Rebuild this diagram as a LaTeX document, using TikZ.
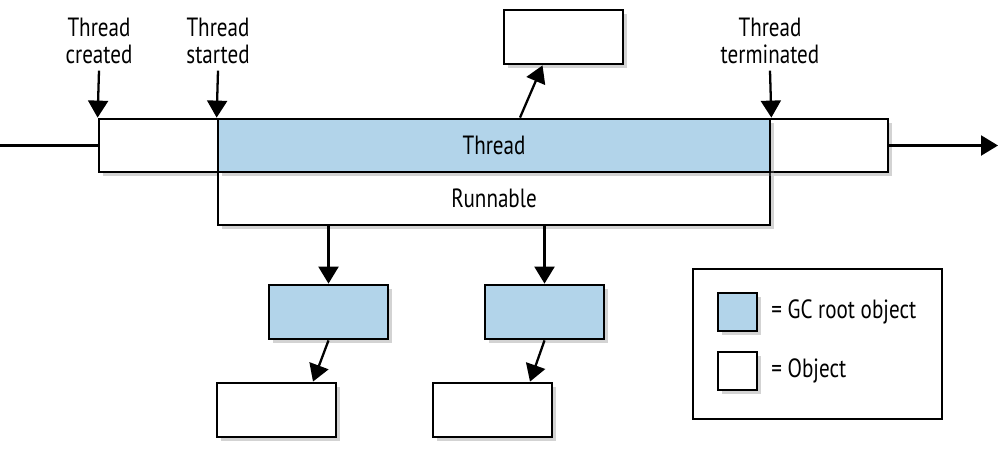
\documentclass[tikz,border=0pt]{standalone}
\usepackage{fontspec}
\setmainfont{PT Sans}[FakeStretch=0.8]
\usetikzlibrary{arrows.meta,shadows}
\definecolor{gcblue}{RGB}{178,212,234}
\tikzset{
  heap/.style={x=0.02cm,y=-0.02cm,font=\fontsize{15}{15.5}\selectfont},
  obj/.style={draw,line width=1.6pt,fill=white,inner sep=0pt,
    minimum width=2.38cm,minimum height=1.08cm,
    drop shadow={shadow xshift=0.08cm,shadow yshift=-0.08cm,opacity=0.35}},
  root/.style={obj,fill=gcblue},
  ptr/.style={line width=1.3pt,-{Triangle[length=0.34cm,width=0.4cm]}},
  evt/.style={align=center,inner sep=0pt,text depth=0.14cm}
}
\begin{document}
\begin{tikzpicture}[heap]
    \useasboundingbox (0,0) rectangle (1000,457);
    % timeline boxes
    \node[obj,minimum width=2.38cm,minimum height=1.06cm] (created) at (158.5,145.5) {};
    \node[obj,minimum width=2.36cm,minimum height=1.06cm] (ended) at (829,145.5) {};
    \node[obj,minimum width=11.04cm,minimum height=1.06cm] (runnable) at (494,198.5) {Runnable};
    \node[root,minimum width=11.04cm,minimum height=1.06cm] (thread) at (494,145.5) {Thread};
    \coordinate (tlstart) at (0,145.5);
    \coordinate (tlend) at (998,145.5);
    \draw[line width=1.3pt] (tlstart) -- (created.west);
    \draw[ptr] (ended.east) -- (tlend);
    % events
    \node[evt] (lblcreated) at (99,44) {Thread\\created};
    \node[evt] (lblstarted) at (218,44) {Thread\\started};
    \node[evt] (lblended) at (770,44) {Thread\\terminated};
    \draw[ptr] (lblcreated.south) -- (created.north west);
    \draw[ptr] (lblstarted.south) -- (thread.north west);
    \draw[ptr] (lblended.south) -- (thread.north east);
    % referenced objects
    \node[obj] (topobj) at (563.5,37) {};
    \node[root] (root1) at (328.5,312) {};
    \node[root] (root2) at (544.5,312) {};
    \node[obj] (leaf1) at (276.5,410) {};
    \node[obj] (leaf2) at (492.5,410) {};
    \draw[ptr] ([xshift=0.52cm]thread.north) -- ([xshift=-0.42cm]topobj.south);
    \draw[ptr] (runnable.south -| root1.north) -- (root1.north);
    \draw[ptr] (runnable.south -| root2.north) -- (root2.north);
    \draw[ptr] (root1.south) -- ([xshift=0.73cm]leaf1.north);
    \draw[ptr] (root2.south) -- ([xshift=0.75cm]leaf2.north);
    % legend
    \node[draw,line width=1.3pt,minimum width=4.98cm,minimum height=3cm] (legend) at (817.5,344) {};
    \node[root,minimum width=0.78cm,minimum height=0.76cm] (keyroot) at (737.5,312) {};
    \node[obj,minimum width=0.78cm,minimum height=0.76cm] (keyobj) at (737.5,371) {};
    \node[anchor=west,inner sep=0pt] (txtroot) at (771,312) {= GC root object};
    \node[anchor=west,inner sep=0pt] (txtobj) at (771,371) {= Object};
\end{tikzpicture}
\end{document}
